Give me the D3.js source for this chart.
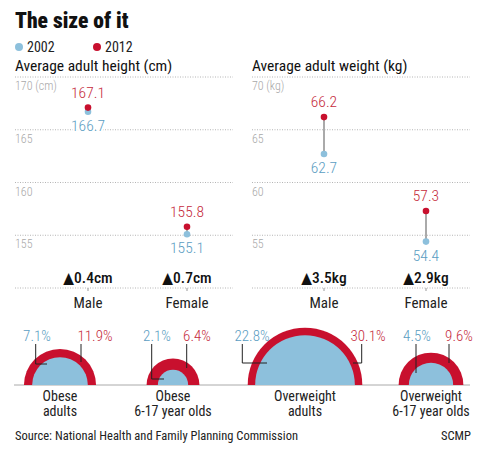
<!DOCTYPE html>
<html><head><meta charset="utf-8">
<script src="https://cdn.jsdelivr.net/npm/d3@7"></script>
<style>
html,body{margin:0;padding:0;background:#fff;}
svg{display:block;font-family:"Roboto Condensed","DejaVu Sans Condensed","Liberation Sans Narrow",Roboto,sans-serif;font-stretch:condensed;}
</style></head>
<body><svg id="c" width="486" height="455"></svg>
<script>
const categories = ["Male", "Female"];
const years = ["2002", "2012"];
const height2002 = [166.7, 155.1];
const height2012 = [167.1, 155.8];
const weight2002 = [62.7, 54.4];
const weight2012 = [66.2, 57.3];
const heightTicks = [170, 165, 160, 155];
const weightTicks = [70, 65, 60, 55];
const groups = [["Obese", "adults"], ["Obese", "6-17 year olds"], ["Overweight", "adults"], ["Overweight", "6-17 year olds"]];
const pct2002 = [7.1, 2.1, 22.8, 4.5];
const pct2012 = [11.9, 6.4, 30.1, 9.6];

const C = {blue: "#8dc0dc", red: "#c8102e", blueText: "#5b9dc2", redText: "#c52a3c", grid: "#b5b5b5", tick: "#a8a8a8"};
const svg = d3.select("#c");

svg.append("text").attr("x", 15).attr("y", 28).text("The size of it")
  .attr("font-size", 21.5).attr("font-weight", 900).attr("fill", "#111");

// legend
const lg = svg.append("g");
years.forEach((y, i) => {
  const x0 = 19 + i * 78;
  lg.append("circle").attr("cx", x0).attr("cy", 47).attr("r", 4).attr("fill", i ? C.red : C.blue);
  lg.append("text").attr("x", x0 + 8).attr("y", 52).text(y).attr("font-size", 14).attr("fill", "#222");
});

function panel(x0, x1, ptX0, ptX1, title, unit, ticks, v02, v12, deltaUnit) {
  const g = svg.append("g");
  const off = unit === "cm" ? 150 : 50;
  const y = d3.scaleLinear().domain([off, off + 20]).range([288, 77]);
  const x = d3.scalePoint().domain(categories).range([ptX0, ptX1]);
  g.append("text").attr("x", x0).attr("y", 71).text(title).attr("font-size", 15.5).attr("fill", "#111");
  ticks.forEach((t, i) => {
    g.append("line").attr("x1", x0).attr("x2", x1).attr("y1", y(t)).attr("y2", y(t))
      .attr("stroke", C.grid).attr("stroke-dasharray", "1,1.5");
    g.append("text").attr("x", x0).attr("y", y(t) + 13).text(i === 0 ? `${t} (${unit})` : t)
      .attr("font-size", 12).attr("font-weight", 300).attr("fill", C.tick);
  });
  // bottom axis
  g.append("line").attr("x1", x0).attr("x2", x1).attr("y1", y(off)).attr("y2", y(off))
    .attr("stroke", C.grid).attr("stroke-dasharray", "1,1.5");
  categories.forEach((c, i) => {
    const cx = x(c);
    g.append("line").attr("x1", cx).attr("x2", cx).attr("y1", y(off)).attr("y2", y(off) + 3).attr("stroke", "#999");
    g.append("text").attr("x", cx).attr("y", y(off) + 20).attr("text-anchor", "middle").text(c)
      .attr("font-size", 15).attr("fill", "#222");
    g.append("line").attr("x1", cx).attr("x2", cx).attr("y1", y(v02[i])).attr("y2", y(v12[i]))
      .attr("stroke", "#aaa").attr("stroke-width", 2);
    g.append("circle").attr("cx", cx).attr("cy", y(v02[i])).attr("r", 3.3).attr("fill", C.blue);
    g.append("circle").attr("cx", cx).attr("cy", y(v12[i])).attr("r", 3.3).attr("fill", C.red);
    g.append("text").attr("x", cx).attr("y", y(v12[i]) - 10).attr("text-anchor", "middle").text(v12[i].toFixed(1))
      .attr("font-size", 15.5).attr("font-weight", 300).attr("fill", C.redText)
      .attr("stroke", "#fff").attr("stroke-width", 4).attr("paint-order", "stroke");
    g.append("text").attr("x", cx).attr("y", y(v02[i]) + 19).attr("text-anchor", "middle").text(v02[i].toFixed(1))
      .attr("font-size", 15.5).attr("font-weight", 300).attr("fill", C.blueText)
      .attr("stroke", "#fff").attr("stroke-width", 4).attr("paint-order", "stroke");
    g.append("text").attr("x", cx).attr("y", 283).attr("text-anchor", "middle")
      .text("\u25B2" + (v12[i] - v02[i]).toFixed(1) + deltaUnit)
      .attr("font-size", 15.5).attr("font-weight", 500).attr("fill", "#111");
  });
}
panel(15, 233, 88, 187, "Average adult height (cm)", "cm", heightTicks, height2002, height2012, "cm");
panel(252, 470, 324, 426, "Average adult weight (kg)", "kg", weightTicks, weight2002, weight2012, "kg");

// semicircles
const base = 385;
const r = d3.scaleSqrt().domain([0, d3.max(pct2012)]).range([0, 57.3]);
const gx = d3.scaleOrdinal().domain(groups.map(d => d.join(" "))).range([60, 173, 305, 431]);
const arc = d3.arc().innerRadius(0).startAngle(-Math.PI / 2).endAngle(Math.PI / 2);
// annotation layout: label offsets and leader geometry, relative to centre
const lay = [
  {bl: -23, bv: -24.3, bh: -13, by: 364, rl: 35, rv: 21, rh: 21, ry: 362},
  {bl: -16, bv: -21.3, bh: -9, by: 379, rl: 24, rv: 13.7, rh: 13.7, ry: 368},
  {bl: -53, bv: -62.7, bh: -38, by: 363, rl: 63, rv: 56.7, rh: 48, ry: 363},
  {bl: -14, bv: -15, bh: -15, by: 373, rl: 28, rv: 18, rh: 18, ry: 363}
];
svg.append("line").attr("x1", 14).attr("x2", 470).attr("y1", base).attr("y2", base).attr("stroke", "#aaa");
const sg = svg.append("g");
groups.forEach((gname, i) => {
  const cx = gx(gname.join(" "));
  const L = lay[i];
  sg.append("path").attr("d", arc.outerRadius(r(pct2012[i]))()).attr("transform", `translate(${cx},${base})`).attr("fill", C.red);
  sg.append("path").attr("d", arc.outerRadius(r(pct2002[i]))()).attr("transform", `translate(${cx},${base})`).attr("fill", C.blue);
  sg.append("polyline").attr("points", `${cx + L.bv},344 ${cx + L.bv},${L.by} ${cx + L.bh},${L.by}`)
    .attr("fill", "none").attr("stroke", "#222").attr("stroke-width", 1);
  sg.append("polyline").attr("points", `${cx + L.rv},344 ${cx + L.rv},${L.ry} ${cx + L.rh},${L.ry}`)
    .attr("fill", "none").attr("stroke", "#222").attr("stroke-width", 1);
  sg.append("text").attr("x", cx + L.bl).attr("y", 341).attr("text-anchor", "middle").text(pct2002[i] + "%")
    .attr("font-size", 15).attr("font-weight", 300).attr("fill", C.blueText);
  sg.append("text").attr("x", cx + L.rl).attr("y", 341).attr("text-anchor", "middle").text(pct2012[i] + "%")
    .attr("font-size", 15).attr("font-weight", 300).attr("fill", C.redText);
  gname.forEach((ln, j) => {
    sg.append("text").attr("x", cx).attr("y", 401 + j * 15).attr("text-anchor", "middle").text(ln)
      .attr("font-size", 14).attr("fill", "#222");
  });
});

svg.append("text").attr("x", 15).attr("y", 440).text("Source: National Health and Family Planning Commission")
  .attr("font-size", 12.5).attr("fill", "#222");
svg.append("text").attr("x", 471).attr("y", 440).attr("text-anchor", "end").text("SCMP")
  .attr("font-size", 12.5).attr("fill", "#222");
</script></body></html>
